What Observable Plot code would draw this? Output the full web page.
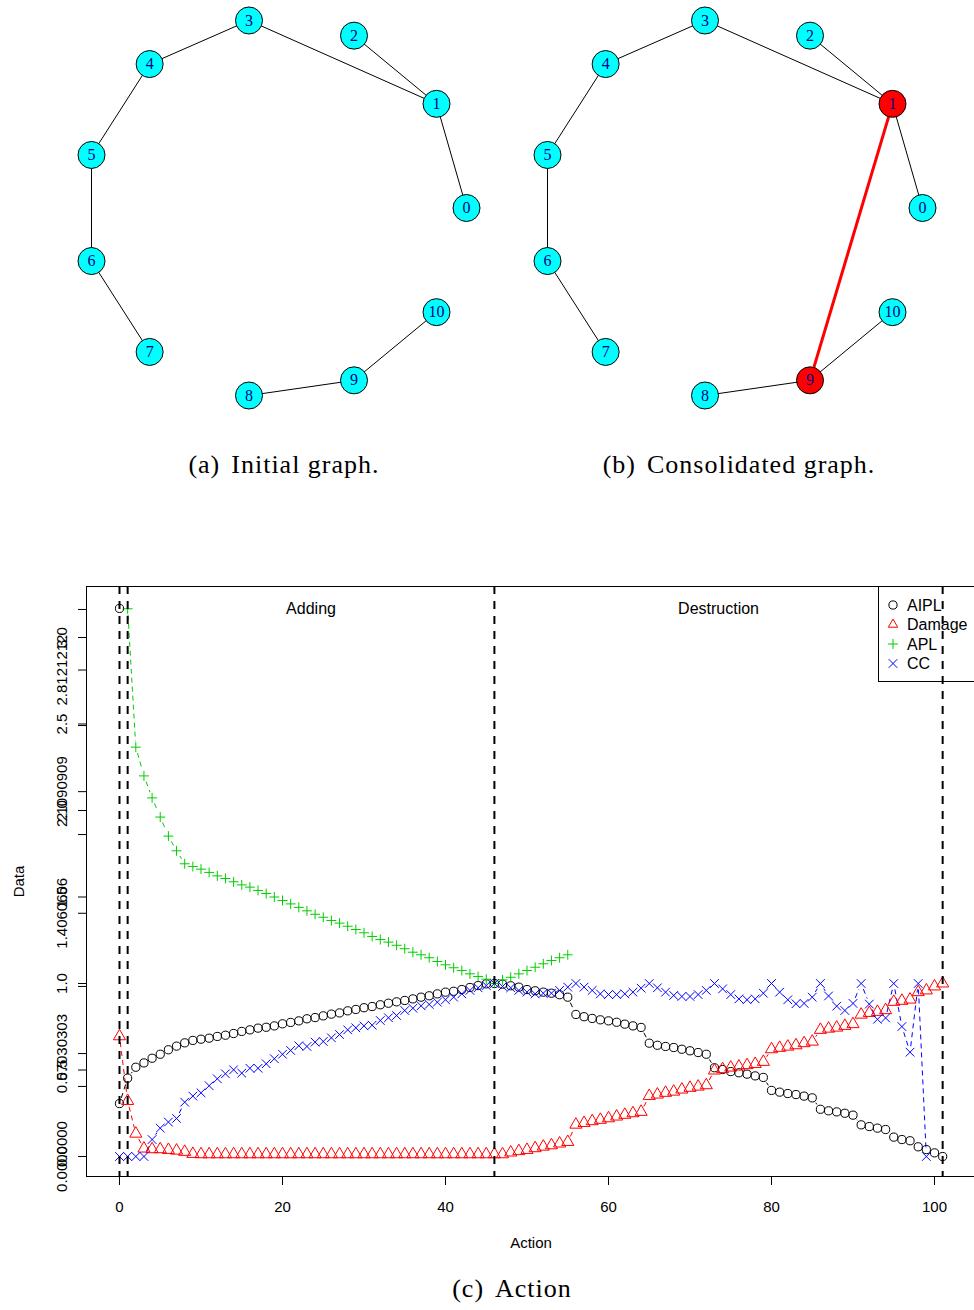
<!DOCTYPE html>
<html><head><meta charset="utf-8">
<script src="https://cdn.jsdelivr.net/npm/d3@7"></script>
<script src="https://cdn.jsdelivr.net/npm/@observablehq/plot@0.6"></script>
<style>
html,body{margin:0;padding:0;background:#fff;overflow:hidden;}
#page{position:relative;width:974px;height:1310px;overflow:hidden;background:#fff;}
.panel{position:absolute;}
.cap{position:absolute;font-family:"Liberation Serif","Times New Roman",serif;font-size:26px;letter-spacing:1px;line-height:26px;white-space:nowrap;transform:translateX(-50%);color:#000;}
.gap{display:inline-block;width:11px;}
#legend{position:absolute;left:878px;top:586px;width:120px;height:96px;border:1px solid #000;box-sizing:border-box;font-family:"Liberation Sans",Arial,sans-serif;font-size:16px;}
</style></head><body><div id="page"></div>
<script>
// ---------- graph data (panels a, b) ----------
const nodeIds = [0, 1, 2, 3, 4, 5, 6, 7, 8, 9, 10];
const nodeX = [1.0, 0.84, 0.40, -0.16, -0.69, -1.0, -1.0, -0.69, -0.16, 0.40, 0.84];
const nodeY = [0.0, 0.55, 0.91, 0.99, 0.76, 0.28, -0.28, -0.76, -0.99, -0.91, -0.55];
const edgeFrom = [3, 2, 1, 3, 4, 5, 6, 8, 9];
const edgeTo   = [1, 1, 0, 4, 5, 6, 7, 9, 10];
const consolidatedEdge = [1, 9];
const consolidatedNodes = [1, 9];

// ---------- chart (c) data ----------
const actions = d3.range(0, 102);
const AIPL = [0.306,0.453,0.516,0.541,0.568,0.591,0.617,0.638,0.657,0.671,
  0.678,0.684,0.694,0.701,0.711,0.723,0.732,0.742,0.747,0.755,
  0.767,0.775,0.784,0.796,0.803,0.813,0.823,0.830,0.842,0.850,
  0.860,0.867,0.877,0.886,0.894,0.902,0.911,0.921,0.929,0.940,
  0.950,0.955,0.965,0.977,0.988,0.998,1.000,0.996,0.987,0.979,
  0.965,0.958,0.950,0.944,0.935,0.921,0.821,0.808,0.798,0.790,
  0.784,0.776,0.765,0.755,0.746,0.655,0.643,0.636,0.630,0.620,
  0.611,0.601,0.591,0.513,0.503,0.491,0.484,0.476,0.466,0.457,
  0.382,0.372,0.364,0.358,0.349,0.339,0.273,0.264,0.258,0.250,
  0.239,0.183,0.173,0.164,0.156,0.112,0.098,0.091,0.056,0.040,
  0.021,0.000];
const AIPLStart = [3.168];
const Damage = [0.695,0.321,0.132,0.046,0.042,0.042,0.038,0.034,0.027,0.015,
  0.013,0.013,0.013,0.013,0.013,0.013,0.013,0.013,0.013,0.013,
  0.013,0.013,0.013,0.013,0.013,0.013,0.013,0.013,0.013,0.013,
  0.013,0.013,0.013,0.013,0.013,0.013,0.013,0.013,0.013,0.013,
  0.013,0.013,0.013,0.013,0.013,0.013,0.013,0.013,0.023,0.031,
  0.038,0.048,0.057,0.065,0.075,0.084,0.184,0.194,0.204,0.212,
  0.221,0.231,0.241,0.250,0.258,0.350,0.358,0.368,0.375,0.387,
  0.397,0.404,0.412,0.497,0.505,0.514,0.520,0.528,0.535,0.547,
  0.620,0.628,0.635,0.643,0.655,0.664,0.732,0.739,0.745,0.755,
  0.765,0.820,0.830,0.836,0.846,0.894,0.900,0.907,0.950,0.960,
  0.983,1.000];
const APL = [null,3.166,2.366,2.200,2.073,1.962,1.852,1.767,1.692,1.676,
  1.661,1.642,1.622,1.607,1.588,1.570,1.557,1.538,1.520,1.500,
  1.480,1.460,1.440,1.420,1.400,1.383,1.364,1.349,1.331,1.312,
  1.293,1.272,1.254,1.239,1.221,1.201,1.181,1.166,1.149,1.127,
  1.108,1.091,1.075,1.056,1.040,1.025,1.000,1.021,1.036,1.056,
  1.075,1.094,1.114,1.133,1.149,1.166];
const CC = [0,0,0,0,0.098,0.164,0.199,0.220,0.314,0.349,
  0.368,0.409,0.449,0.478,0.501,0.482,0.510,0.510,0.536,0.565,
  0.591,0.613,0.640,0.636,0.661,0.665,0.686,0.705,0.732,0.744,
  0.755,0.759,0.786,0.802,0.815,0.844,0.857,0.871,0.879,0.892,
  0.906,0.921,0.940,0.960,0.975,0.988,1.000,0.983,0.975,0.960,
  0.950,0.940,0.944,0.944,0.960,0.979,1.000,0.979,0.960,0.940,
  0.936,0.936,0.940,0.950,0.973,1.000,0.975,0.950,0.931,0.925,
  0.925,0.936,0.960,1.000,0.969,0.936,0.911,0.906,0.911,0.944,
  1.000,0.950,0.906,0.883,0.885,0.921,1.000,0.928,0.869,0.844,
  0.885,1.000,0.881,0.793,0.801,1.000,0.751,0.603,1.000,0.000];

const seriesNames = ["AIPL", "Damage", "APL", "CC"];
const phaseBounds = [0, 1, 46, 101];
const phaseNames = ["Adding", "Destruction"];
const phaseStart = [1, 46];
const phaseEnd = [46, 101];

const xTicks = [0, 20, 40, 60, 80, 100];
const yTickValues = [0, 0.405, 0.5, 0.595, 0.983, 1.0, 1.406, 1.5, 1.861, 2.0, 2.109, 2.491, 2.5, 2.812, 3.0, 3.162];
const yLabelValues = [0, 0, 0.5, 0.595, 1.0, 1.406, 1.5, 2.0, 2.109, 2.5, 2.812, 3.0];
const yLabelTexts = ["0.0", "0.0000000", "0.5", "0.57030303", "1.0", "1.4060606", "1.5", "2.0", "2.1090909", "2.5", "2.8121212", "3.0"];

// ---------- styles ----------
const colors = {AIPL: "#000000", Damage: "#FF0000", APL: "#00CD00", CC: "#0000FF"};
const symbols = {AIPL: "circle", Damage: "triangle", APL: "plus", CC: "times"};
const radii = {AIPL: 4.1, Damage: 4.5, APL: 3.3, CC: 4.0};
const sansFont = "'Liberation Sans', Arial, Helvetica, sans-serif";

const page = document.getElementById("page");

// ---------- network panels ----------
function graphPlot(consolidated) {
  const nodes = nodeIds.map((id, i) => ({id, x: nodeX[i], y: nodeY[i]}));
  const links = edgeFrom.map((s, i) => ({x1: nodeX[s], y1: nodeY[s], x2: nodeX[edgeTo[i]], y2: nodeY[edgeTo[i]]}));
  const marks = [Plot.link(links, {x1: "x1", y1: "y1", x2: "x2", y2: "y2", stroke: "#000", strokeWidth: 1})];
  const hot = consolidated ? consolidatedNodes : [];
  if (consolidated) {
    const [a, b] = consolidatedEdge;
    marks.push(Plot.link([{x1: nodeX[a], y1: nodeY[a], x2: nodeX[b], y2: nodeY[b]}],
      {x1: "x1", y1: "y1", x2: "x2", y2: "y2", stroke: "#FF0000", strokeWidth: 3}));
  }
  marks.push(Plot.dot(nodes.filter(d => !hot.includes(d.id)), {x: "x", y: "y", r: 13.5, fill: "#00FFFF", stroke: "#000", strokeWidth: 1}));
  marks.push(Plot.dot(nodes.filter(d => hot.includes(d.id)), {x: "x", y: "y", r: 13.5, fill: "#FF0000", stroke: "#000", strokeWidth: 1}));
  marks.push(Plot.text(nodes, {x: "x", y: "y", text: d => String(d.id), fill: "#00008B", fontSize: 16, fontFamily: "'Liberation Serif', 'Times New Roman', serif"}));
  return Plot.plot({
    width: 487, height: 440, margin: 0,
    x: {domain: [-1, 1], range: [91, 466], axis: null},
    y: {domain: [-1, 1], range: [396.9, 18.1], axis: null},
    style: {background: "transparent", maxWidth: "none", overflow: "visible"},
    marks
  });
}
const pa = graphPlot(false); pa.classList.add("panel"); pa.style.left = "0px"; pa.style.top = "0px"; page.appendChild(pa);
const pb = graphPlot(true); pb.classList.add("panel"); pb.style.left = "456px"; pb.style.top = "0px"; page.appendChild(pb);

function caption(html, cx, top) {
  const d = document.createElement("div");
  d.className = "cap"; d.innerHTML = html;
  d.style.left = cx + "px"; d.style.top = top + "px";
  page.appendChild(d);
}
caption('(a)<span class="gap"></span>Initial graph.', 284, 452);
caption('(b)<span class="gap"></span>Consolidated graph.', 739, 452);

// ---------- chart (c) ----------
const seriesVals = {AIPL, Damage, APL, CC};
function points(name) {
  return seriesVals[name].map((v, i) => ({x: actions[i], y: v})).filter(d => d.y != null);
}
function segments(name) {
  const vals = seriesVals[name], out = [];
  for (let i = 0; i < vals.length - 1; i++) {
    if (vals[i] != null && vals[i + 1] != null) out.push({x1: actions[i], y1: vals[i], x2: actions[i + 1], y2: vals[i + 1]});
  }
  return out;
}
const yTop = d3.max(APL);
const phases = phaseNames.map((n, i) => ({name: n, mid: (phaseStart[i] + phaseEnd[i]) / 2}));
const yLabels = yLabelValues.map((v, i) => ({v, t: yLabelTexts[i]}));

const marks = [];
for (const s of seriesNames) {
  marks.push(Plot.arrow(segments(s), {x1: "x1", y1: "y1", x2: "x2", y2: "y2", stroke: colors[s], strokeWidth: 1,
    strokeDasharray: "5,4", headLength: 0, insetStart: 6, insetEnd: 6, strokeLinecap: "butt"}));
}
for (const s of seriesNames) {
  marks.push(Plot.dot(points(s), {x: "x", y: "y", symbol: symbols[s], r: radii[s], stroke: colors[s], fill: "none", strokeWidth: 1}));
}
marks.push(Plot.dot(AIPLStart.map(v => ({x: actions[0], y: v})), {x: "x", y: "y", symbol: "circle", r: radii.AIPL, stroke: colors.AIPL, fill: "none", strokeWidth: 1}));
marks.push(Plot.text(phases, {x: "mid", y: () => yTop, text: "name", fontSize: 16, fontFamily: sansFont, fill: "#000"}));
marks.push(Plot.ruleX(phaseBounds, {stroke: "#000", strokeWidth: 2, strokeDasharray: "8,7"}));
marks.push(Plot.frame({stroke: "#000", strokeWidth: 1}));
marks.push(Plot.axisX(xTicks, {tickSize: 9, tickPadding: 16, fontSize: 15, fontFamily: sansFont, label: null, tickFormat: d => String(d)}));
marks.push(Plot.axisY(yTickValues, {tickSize: 8, tickFormat: () => "", label: null}));
marks.push(Plot.text(yLabels, {frameAnchor: "left", y: "v", text: "t", rotate: -90, dx: -24, textAnchor: "middle", lineAnchor: "middle", fontSize: 15, fontFamily: sansFont, fill: "#000"}));
marks.push(Plot.text(["Data"], {frameAnchor: "left", dx: -67, rotate: -90, textAnchor: "middle", lineAnchor: "middle", fontSize: 15, fontFamily: sansFont, fill: "#000"}));
marks.push(Plot.text(["Action"], {frameAnchor: "bottom", dy: 71, fontSize: 15, fontFamily: sansFont, fill: "#000"}));

const chart = Plot.plot({
  width: 980, height: 700,
  marginLeft: 86, marginRight: 5, marginTop: 26, marginBottom: 84,
  x: {domain: [-4.049, 105.03], axis: null},
  y: {domain: [-0.1156, 3.2948], axis: null},
  style: {background: "transparent", maxWidth: "none", overflow: "visible", fontFamily: sansFont},
  marks
});
chart.classList.add("panel"); chart.style.left = "0px"; chart.style.top = "560px";
page.appendChild(chart);

// ---------- legend ----------
const legend = document.createElement("div");
legend.id = "legend";
const ns = "http://www.w3.org/2000/svg";
const lsvg = document.createElementNS(ns, "svg");
lsvg.setAttribute("width", "120"); lsvg.setAttribute("height", "96");
lsvg.style.position = "absolute"; lsvg.style.left = "-1px"; lsvg.style.top = "-1px";
const d3Sym = {circle: d3.symbolCircle, triangle: d3.symbolTriangle2, plus: d3.symbolPlus, times: d3.symbolTimes};
seriesNames.forEach((s, i) => {
  const cy = 19 + i * 19.5;
  const p = document.createElementNS(ns, "path");
  p.setAttribute("d", d3.symbol(d3Sym[symbols[s]], Math.PI * radii[s] * radii[s])());
  p.setAttribute("transform", `translate(15,${cy})`);
  p.setAttribute("fill", "none"); p.setAttribute("stroke", colors[s]); p.setAttribute("stroke-width", "1");
  lsvg.appendChild(p);
  const t = document.createElementNS(ns, "text");
  t.setAttribute("x", "29"); t.setAttribute("y", cy); t.setAttribute("dy", "0.35em");
  t.setAttribute("font-family", "Liberation Sans, Arial, sans-serif"); t.setAttribute("font-size", "16");
  t.textContent = s;
  lsvg.appendChild(t);
});
legend.appendChild(lsvg);
page.insertBefore(legend, chart);
chart.style.pointerEvents = "none";

caption('(c)<span class="gap"></span>Action', 512, 1276);
</script>
</body></html>
